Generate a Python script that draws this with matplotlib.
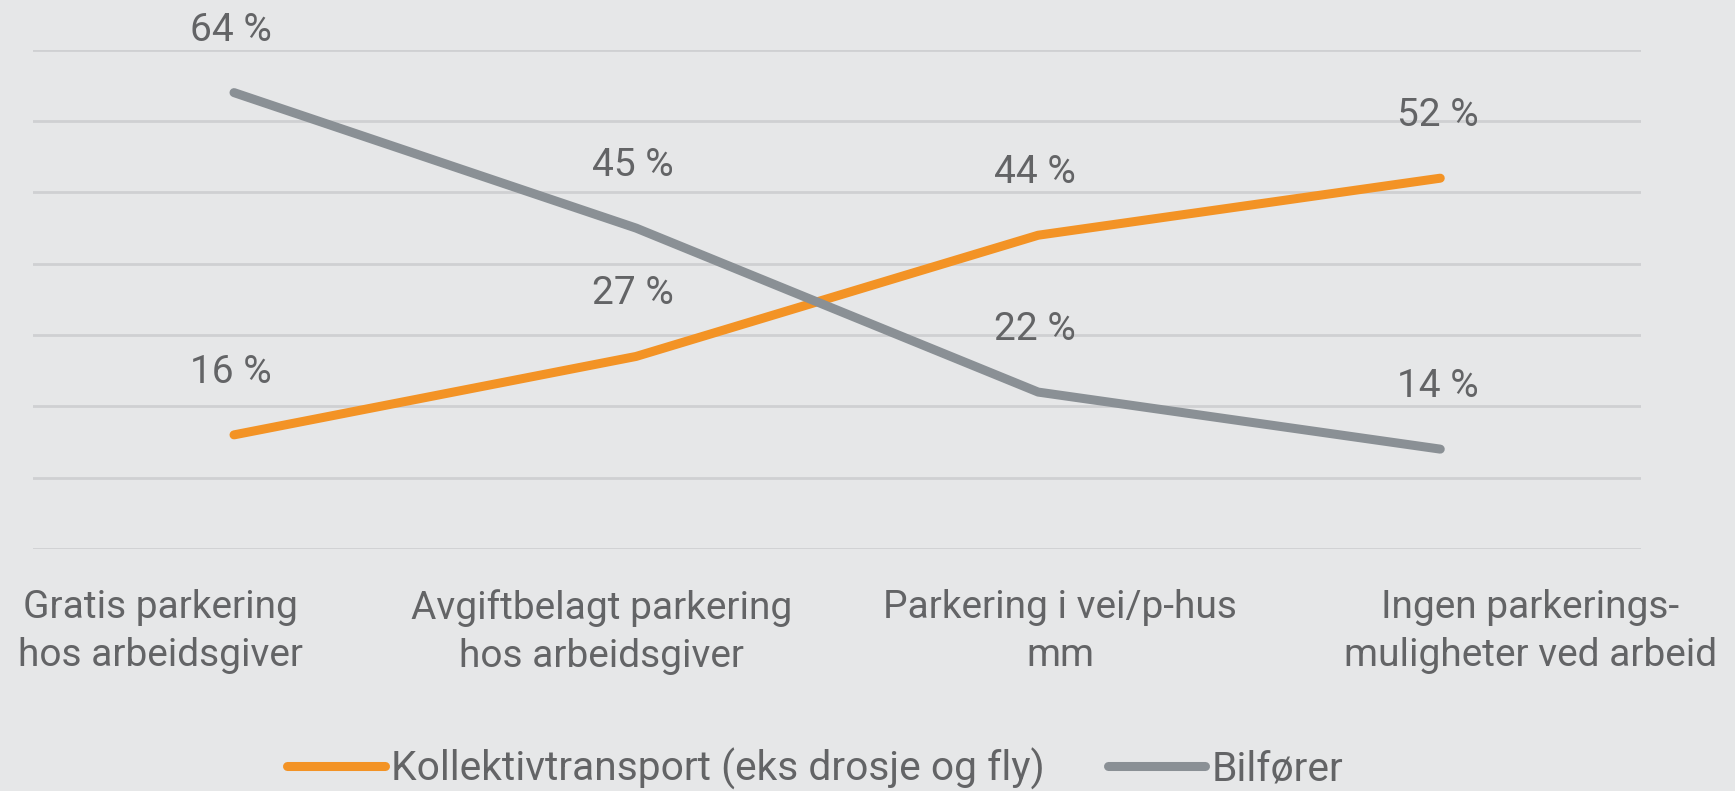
import matplotlib
matplotlib.use("Agg")
import matplotlib.pyplot as plt
import matplotlib.transforms as mtransforms
from matplotlib import font_manager

categories = ["Gratis parkering\nhos arbeidsgiver",
              "Avgiftbelagt parkering\nhos arbeidsgiver",
              "Parkering i vei/p-hus\nmm",
              "Ingen parkerings-\nmuligheter ved arbeid"]
kollektiv = [16, 27, 44, 52]
bilforer = [64, 45, 22, 14]
series_names = ["Kollektivtransport (eks drosje og fly)", "Bilfører"]

names = {f.name for f in font_manager.fontManager.ttflist}
family = "Roboto" if "Roboto" in names else "DejaVu Sans"
plt.rcParams["font.family"] = [family, "DejaVu Sans"]
plt.rcParams["font.weight"] = "normal"

bg = "#e6e7e8"
orange = "#f39325"
grey = "#8a9095"
text_col = "#636466"

fig = plt.figure(figsize=(17.35, 7.91), dpi=100, facecolor=bg)
ax = fig.add_axes([0.019, 0.306, 0.927, 0.631], facecolor=bg)

x = range(len(categories))
ax.plot(x, kollektiv, color=orange, lw=6.5, solid_capstyle="round", label=series_names[0], zorder=3)
ax.plot(x, bilforer, color=grey, lw=6.5, solid_capstyle="round", label=series_names[1], zorder=3)

for xi, v in zip(x, kollektiv):
    ax.annotate(f"{v} %", (xi, v), xytext=(-2, 45), textcoords="offset points",
                ha="center", va="center", fontsize=28, color=text_col)
for xi, v in zip(x, bilforer):
    ax.annotate(f"{v} %", (xi, v), xytext=(-2, 45), textcoords="offset points",
                ha="center", va="center", fontsize=28, color=text_col)

ax.set_xlim(-0.5, 3.5)
ax.set_ylim(0, 70)
ax.set_yticks(range(0, 71, 10))
ax.set_yticklabels([])
ax.grid(axis="y", color="#cfd0d2", lw=2)
ax.set_axisbelow(True)
for s in ax.spines.values():
    s.set_visible(False)
ax.tick_params(axis="both", length=0)
ax.set_xticks(list(x))
ax.set_xticklabels(categories, fontsize=28, color=text_col, linespacing=1.36)
ax.tick_params(axis="x", pad=29)

# labels in the original sit a bit off the category centres
shifts = [-53, -25, 16, 65]
for lab, dx in zip(ax.get_xticklabels(), shifts):
    lab.set_transform(lab.get_transform() + mtransforms.ScaledTranslation(dx / 72, 0, fig.dpi_scale_trans))

fig.legend(loc="center left", bbox_to_anchor=(287 / 1735, 0.028), ncol=2, frameon=False,
           fontsize=29.3, labelcolor=text_col, handlelength=2.4, handletextpad=0.15,
           columnspacing=1.55, borderaxespad=0, borderpad=0)

fig.savefig("out.png", dpi=100, facecolor=bg)
